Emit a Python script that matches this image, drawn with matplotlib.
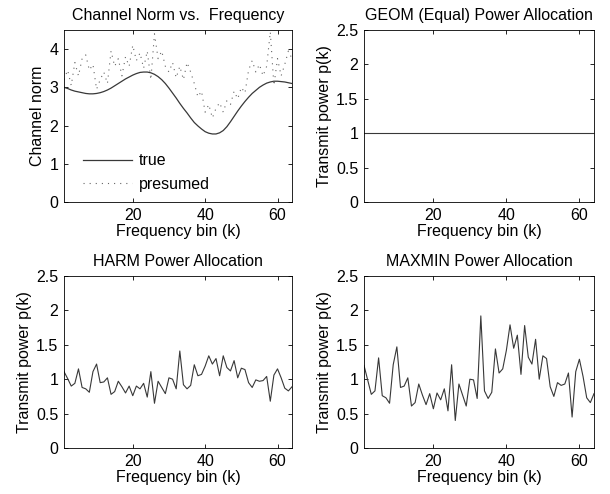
import numpy as np
import matplotlib
matplotlib.use("Agg")
import matplotlib.pyplot as plt

plt.rcParams['font.family'] = ['Liberation Sans', 'DejaVu Sans']
plt.rcParams['font.size'] = 11.5

# frequency bins 1..64
k = np.arange(1, 65)

# channel norm, true and presumed
true_norm = [3.00, 2.97, 2.93, 2.90, 2.88, 2.86, 2.84, 2.83, 2.83, 2.84,
             2.86, 2.89, 2.93, 2.98, 3.04, 3.10, 3.16, 3.22, 3.27, 3.32,
             3.36, 3.39, 3.40, 3.40, 3.38, 3.34, 3.28, 3.20, 3.10, 2.98,
             2.85, 2.72, 2.58, 2.45, 2.33, 2.20, 2.08, 1.99, 1.91, 1.84,
             1.80, 1.78, 1.78, 1.81, 1.87, 1.97, 2.10, 2.24, 2.38, 2.51,
             2.63, 2.74, 2.84, 2.92, 3.00, 3.06, 3.11, 3.14, 3.16, 3.16,
             3.15, 3.14, 3.12, 3.10]
presumed_norm = [3.20, 3.45, 3.05, 3.65, 3.30, 3.75, 3.85, 3.45, 3.60, 2.95,
                 3.20, 3.40, 3.10, 3.95, 3.55, 3.75, 3.30, 3.80, 3.55, 4.10,
                 3.70, 3.90, 3.50, 3.95, 3.20, 4.40, 3.75, 3.95, 3.55, 3.40,
                 3.65, 3.25, 3.55, 3.20, 3.65, 3.40, 3.10, 2.75, 2.90, 2.35,
                 2.55, 2.20, 2.45, 2.60, 2.35, 2.65, 2.55, 2.90, 2.70, 3.00,
                 2.85, 3.45, 3.70, 3.40, 3.60, 3.30, 3.55, 4.45, 3.05, 3.75,
                 3.30, 3.60, 3.95, 3.75]

# power allocations
geom_p = [1.0] * 64
harm_p = [1.11, 1.01, 0.90, 0.94, 1.15, 0.88, 0.86, 0.81, 1.11, 1.22,
          0.95, 0.96, 1.02, 0.78, 0.82, 0.97, 0.89, 0.80, 0.90, 0.76,
          0.90, 0.86, 0.94, 0.74, 1.11, 0.65, 0.97, 0.88, 0.79, 1.02,
          1.00, 0.86, 1.41, 0.92, 0.86, 0.91, 1.21, 1.05, 1.07, 1.19,
          1.34, 1.22, 1.30, 1.05, 1.34, 1.17, 1.12, 1.27, 1.02, 1.16,
          1.14, 0.95, 0.88, 0.99, 0.97, 0.98, 1.04, 0.68, 1.06, 1.15,
          1.02, 0.87, 0.83, 0.89]
maxmin_p = [1.20, 0.99, 0.78, 0.83, 1.31, 0.76, 0.73, 0.65, 1.21, 1.47,
            0.88, 0.90, 1.02, 0.61, 0.66, 0.93, 0.77, 0.63, 0.79, 0.57,
            0.80, 0.70, 0.86, 0.54, 1.21, 0.40, 0.93, 0.77, 0.61, 1.00,
            0.99, 0.72, 1.92, 0.83, 0.72, 0.81, 1.44, 1.09, 1.15, 1.42,
            1.79, 1.45, 1.64, 1.07, 1.78, 1.32, 1.22, 1.58, 1.00, 1.34,
            1.30, 0.89, 0.75, 0.95, 0.91, 0.93, 1.09, 0.45, 1.11, 1.29,
            1.04, 0.73, 0.66, 0.79]

W, H = 610, 494
fig = plt.figure(figsize=(W / 100, H / 100), dpi=100)

def box(l, t, r, b):
    return [l / W, 1 - b / H, (r - l) / W, (b - t) / H]

def style(ax):
    ax.set_xlim(1, 64)
    ax.set_xticks([20, 40, 60])
    ax.tick_params(direction='in', top=True, right=True, length=3, width=0.6,
                   labelsize=11.5, pad=4)
    for s in ax.spines.values():
        s.set_linewidth(0.6)
    ax.set_xlabel("Frequency bin (k)", labelpad=1)

lc = '#383838'

ax1 = fig.add_axes(box(64, 30, 292, 202))
ax1.plot(k, true_norm, '-', color=lc, lw=0.9, label='true')
ax1.plot(k, presumed_norm, linestyle=(0, (1, 4.5)), color='#666666', lw=0.8,
         label='presumed')
ax1.set_ylim(0, 4.5)
ax1.set_yticks([0, 1, 2, 3, 4])
ax1.set_ylabel("Channel norm", labelpad=3)
ax1.set_title("Channel Norm vs.  Frequency", fontsize=11.5, pad=7)
ax1.legend(loc='lower left', frameon=False, fontsize=11.5, handlelength=3.1,
           handletextpad=0.4, labelspacing=0.55, bbox_to_anchor=(0.02, -0.025))
style(ax1)

panels = [((364, 30, 594, 202), geom_p, "GEOM (Equal) Power Allocation"),
          ((64, 276, 292, 448), harm_p, "HARM Power Allocation"),
          ((364, 276, 594, 448), maxmin_p, "MAXMIN Power Allocation")]
for rect, p, title in panels:
    ax = fig.add_axes(box(*rect))
    ax.plot(k, p, '-', color=lc, lw=0.8)
    ax.set_ylim(0, 2.5)
    ax.set_yticks([0, 0.5, 1, 1.5, 2, 2.5])
    ax.set_yticklabels(['0', '0.5', '1', '1.5', '2', '2.5'])
    ax.set_ylabel("Transmit power p(k)", labelpad=3)
    ax.set_title(title, fontsize=11.5, pad=7)
    style(ax)

fig.savefig("out.png", dpi=100)
